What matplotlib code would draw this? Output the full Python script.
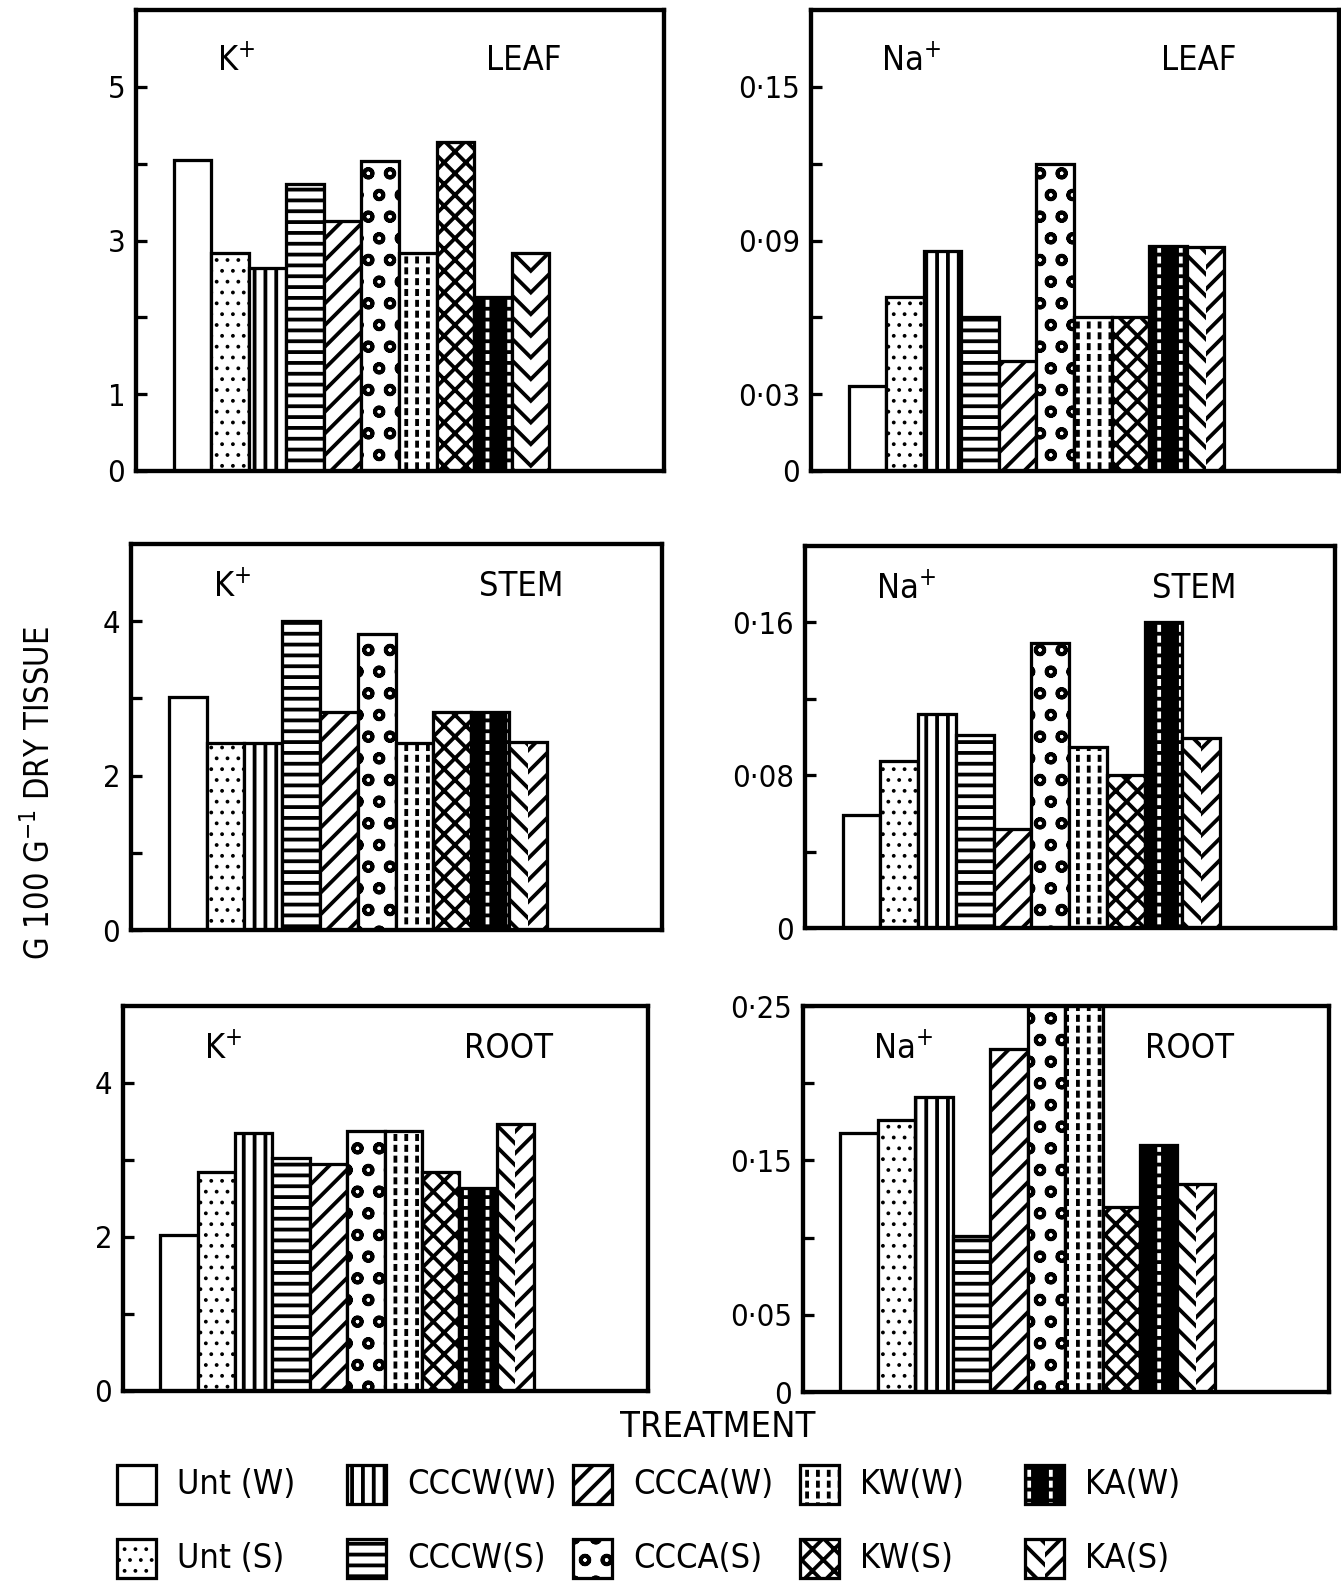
import matplotlib.pyplot as plt
import numpy as np

plt.rcParams['font.family'] = ['DejaVu Sans']
plt.rcParams['font.stretch'] = 'condensed'
plt.rcParams['hatch.linewidth'] = 2.1

treatments = ['Unt (W)', 'Unt (S)', 'CCCW(W)', 'CCCW(S)', 'CCCA(W)',
              'CCCA(S)', 'KW(W)', 'KW(S)', 'KA(W)', 'KA(S)']
styles = ['open', 'dots', 'vlines', 'hlines', 'diag',
          'circles', 'vdash', 'cross', 'kaw', 'chevron']

# g 100 g-1 dry tissue
k_leaf = [4.05, 2.84, 2.64, 3.74, 3.25, 4.03, 2.84, 4.28, 2.27, 2.84]
na_leaf = [0.033, 0.068, 0.086, 0.060, 0.043, 0.120, 0.060, 0.060, 0.088, 0.0875]
k_stem = [3.02, 2.42, 2.42, 4.0, 2.83, 3.83, 2.42, 2.83, 2.83, 2.43]
na_stem = [0.059, 0.0875, 0.112, 0.101, 0.052, 0.149, 0.095, 0.080, 0.160, 0.0995]
k_root = [2.03, 2.84, 3.35, 3.02, 2.95, 3.38, 3.38, 2.84, 2.64, 3.47]
na_root = [0.168, 0.176, 0.191, 0.101, 0.222, 0.27, 0.27, 0.120, 0.160, 0.135]

panels = [
    # values, ion, organ, ylim, tick values, tick labels, axes box (px)
    (k_leaf, 'K', 'LEAF', 6.0, [0, 1, 2, 3, 4, 5], ['0', '1', '', '3', '', '5'],
     (136, 10, 664, 471)),
    (na_leaf, 'Na', 'LEAF', 0.18, [0, 0.03, 0.06, 0.09, 0.12, 0.15],
     ['0', '0·03', '', '0·09', '', '0·15'], (811, 10, 1339, 471)),
    (k_stem, 'K', 'STEM', 5.0, [0, 1, 2, 3, 4], ['0', '', '2', '', '4'],
     (131, 544, 662, 930)),
    (na_stem, 'Na', 'STEM', 0.20, [0, 0.04, 0.08, 0.12, 0.16],
     ['0', '', '0·08', '', '0·16'], (805, 546, 1335, 928)),
    (k_root, 'K', 'ROOT', 5.0, [0, 1, 2, 3, 4], ['0', '', '2', '', '4'],
     (123, 1006, 648, 1391)),
    (na_root, 'Na', 'ROOT', 0.25, [0, 0.05, 0.10, 0.15, 0.20, 0.25],
     ['0', '0·05', '', '0·15', '', '0·25'], (803, 1006, 1329, 1392)),
]

W, H = 1341, 1584
DPI = 130
EDGE = 1.8


def hatched_bar(ax, x, h, w, kind, bottom=0):
    kw = dict(bottom=bottom)
    if kind == 'open':
        ax.bar(x, h, w, facecolor='white', edgecolor='black', linewidth=EDGE, **kw)
        return
    if kind == 'dots':
        # finer pen for the stipple so the dots stay small
        with plt.rc_context({'hatch.linewidth': 0.9}):
            ax.bar(x, h, w, facecolor='white', edgecolor='black', hatch='..',
                   linewidth=EDGE, **kw)
        return
    simple = {'vlines': '||', 'hlines': '--', 'diag': '//',
              'circles': 'o', 'cross': 'xx'}
    if kind in simple:
        ax.bar(x, h, w, facecolor='white', edgecolor='black',
               hatch=simple[kind], linewidth=EDGE, **kw)
        return
    if kind == 'vdash':
        ax.bar(x, h, w, facecolor='white', edgecolor='black', hatch='||',
               linewidth=0, **kw)
        ax.bar(x, h, w, fill=False, edgecolor='white', hatch='--', linewidth=0, **kw)
    elif kind == 'kaw':
        ax.bar(x, h, w, facecolor='black', edgecolor='white', hatch='|',
               linewidth=0, **kw)
        ax.bar(x, h, w, fill=False, edgecolor='black', hatch='--', linewidth=0, **kw)
    elif kind == 'chevron':
        ax.bar(x - w / 4, h, w / 2, facecolor='white', edgecolor='black',
               hatch='\\\\', linewidth=0, **kw)
        ax.bar(x + w / 4, h, w / 2, facecolor='white', edgecolor='black',
               hatch='//', linewidth=0, **kw)
    ax.bar(x, h, w, fill=False, edgecolor='black', linewidth=EDGE, **kw)


fig = plt.figure(figsize=(W / DPI, H / DPI), dpi=DPI)

x = np.arange(len(treatments))
for vals, ion, organ, ytop, tvals, tlabels, (l, t, r, b) in panels:
    ax = fig.add_axes([l / W, 1 - b / H, (r - l) / W, (b - t) / H])
    for xi, v, st in zip(x, vals, styles):
        hatched_bar(ax, xi, v, 1.0, st)
    ax.set_xlim(-1.5, 12.55)
    ax.set_ylim(0, ytop)
    ax.set_xticks([])
    ax.set_yticks(tvals)
    ax.set_yticklabels(tlabels, fontsize=17)
    ax.tick_params(axis='y', direction='in', length=6, width=1.8, pad=6)
    for sp in ax.spines.values():
        sp.set_linewidth(2.4)
    ax.text(0.19, 0.89, ion + r'$^{+}$', transform=ax.transAxes,
            fontsize=19, ha='center', va='center')
    ax.text(0.735, 0.89, organ, transform=ax.transAxes,
            fontsize=19, ha='center', va='center')

fig.text(40 / W, 1 - 793 / H, r'G 100 G$^{-1}$ DRY TISSUE', rotation=90,
         fontsize=18, ha='center', va='center')
fig.text(718 / W, 1 - 1427 / H, 'TREATMENT', fontsize=20,
         ha='center', va='center')

# key at the bottom, two rows of five
lax = fig.add_axes([0, 0, 1, 1 - 1440 / H])
lax.set_xlim(0, W)
lax.set_ylim(H, 1440)
lax.axis('off')
col_x = [137, 367, 593, 820, 1045]
row_y = [1504, 1578]
for i, (name, st) in enumerate(zip(treatments, styles)):
    cx = col_x[i // 2]
    by = row_y[i % 2]
    hatched_bar(lax, cx, -39, 39, st, bottom=by)
    lax.text(cx + 40, by - 19, name, fontsize=19, ha='left', va='center')

fig.savefig('out.png', dpi=DPI)
